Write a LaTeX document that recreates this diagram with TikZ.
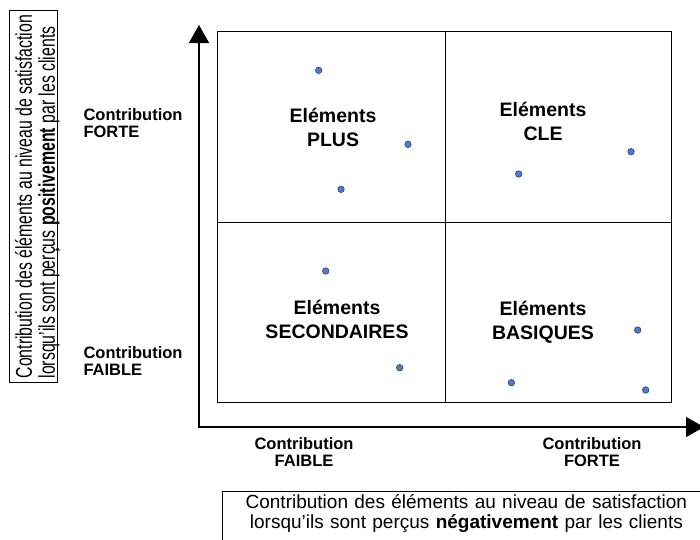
\documentclass[tikz,border=0pt]{standalone}
\usepackage{fontspec}
\setmainfont{Liberation Sans}
\usepackage{graphicx}
\usepackage{xcolor}
\usetikzlibrary{arrows.meta}
\definecolor{dotblue}{RGB}{72,122,228}
\newcommand{\axisarrows}{{Triangle[length=18pt,width=20pt]}-{Triangle[length=18pt,width=20pt]}}

\begin{document}
\begin{tikzpicture}[x=1pt,y=-1pt,
	quadlbl/.style={font=\fontsize{19.5}{24}\selectfont\bfseries, align=center},
	contrib/.style={font=\fontsize{16.5}{17.7}\selectfont\bfseries},
	elem/.style={circle, draw=black!75, fill=dotblue, line width=0.6pt, inner sep=0pt, minimum size=6.5pt},
	legend/.style={draw, line width=0.8pt, font=\fontsize{19}{20}\selectfont}]
	\useasboundingbox (0,0) rectangle (700,539);
	\coordinate (ytop) at (199,25);
	\coordinate (o) at (199,427);
	\coordinate (xend) at (704,427);
	\draw[line width=1.3pt, \axisarrows] (ytop) -- (o) -- (xend);
	\draw[line width=0.9pt] (217,31) rectangle (671,402);
	\draw[line width=0.9pt] (445,31) -- (445,402);
	\draw[line width=0.9pt] (217,222) -- (671,222);
	\node[quadlbl] (plus) at (333,127) {Eléments\\PLUS};
	\node[quadlbl] (cle) at (543,121.5) {Eléments\\CLE};
	\node[quadlbl] (second) at (337,319.5) {Eléments\\SECONDAIRES};
	\node[quadlbl] (basic) at (543,322) {Eléments\\BASIQUES};
	\foreach \px/\py [count=\i] in {318.7/70.3, 408/144.3, 341/189.3, 518.7/174, 631/151.7,
		325.7/271, 399.7/367.7, 637.7/330, 511.3/382.7, 645.7/390}
		\node[elem] (e\i) at (\px,\py) {};
	\node[contrib, align=left, anchor=west] (yhigh) at (80,123) {Contribution\\FORTE};
	\node[contrib, align=left, anchor=west] (ylow) at (80,361) {Contribution\\FAIBLE};
	\node[contrib, align=center] (xlow) at (304,452) {Contribution\\FAIBLE};
	\node[contrib, align=center] (xhigh) at (592,452) {Contribution\\FORTE};
	\node[legend, font=\fontsize{19}{18.5}\selectfont, rotate=90, inner sep=0pt, minimum width=372, minimum height=48] (ylegend) at (33.3,196.7)
		{\raisebox{-5pt}[\height][\depth]{\scalebox{0.835}[1.2]{\begin{tabular}{@{}l@{}}Contribution des éléments au niveau de satisfaction\\lorsqu'ils sont perçus \textbf{positivement} par les clients\end{tabular}}}};
	\node[legend, anchor=north west, text width=480.7, align=center, text depth=34pt] (xlegend) at (222.3,491)
		{Contribution des éléments au niveau de satisfaction\\lorsqu'ils sont perçus \textbf{négativement} par les clients};
\end{tikzpicture}
\end{document}
